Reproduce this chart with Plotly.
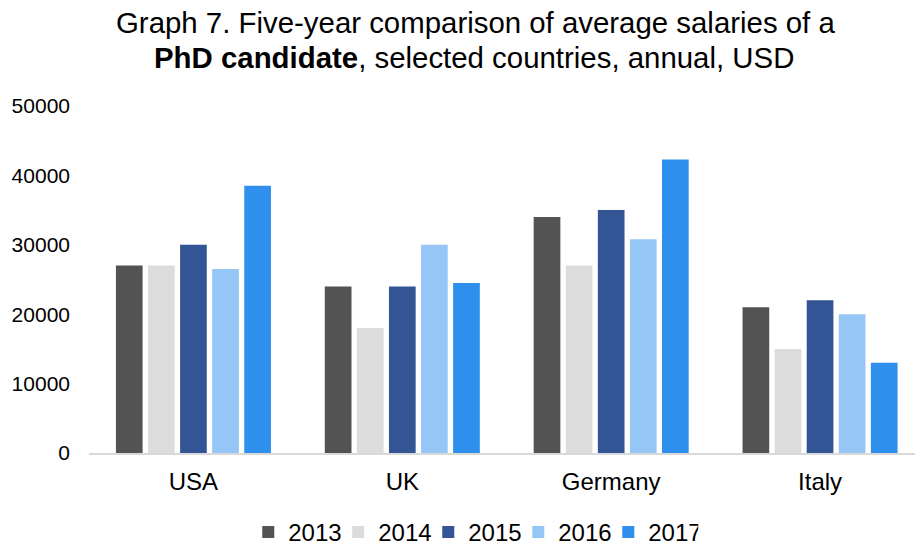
import plotly.graph_objects as go

countries = ["USA", "UK", "Germany", "Italy"]
years = ["2013", "2014", "2015", "2016", "2017"]
values = {
    "2013": [27000, 24000, 34000, 21000],
    "2014": [27000, 18000, 27000, 15000],
    "2015": [30000, 24000, 35000, 22000],
    "2016": [26500, 30000, 30800, 20000],
    "2017": [38500, 24500, 42300, 13000],
}
colors = {
    "2013": "#535353",
    "2014": "#dcdcdc",
    "2015": "#335596",
    "2016": "#95c6f5",
    "2017": "#2e90ec",
}
y_ticks = [0, 10000, 20000, 30000, 40000, 50000]
title_line1 = "Graph 7. Five-year comparison of average salaries of a"
title_line2 = "<b>PhD candidate</b>, selected countries, annual, USD"

FONT = "Liberation Sans, Arial, Helvetica, sans-serif"

fig = go.Figure()
for yr in years:
    fig.add_trace(go.Bar(
        name=yr, x=countries, y=values[yr],
        marker=dict(color=colors[yr], line=dict(width=0)),
    ))

W, H = 915, 548
left, right = 88.5, 915
top, bottom = 106, 453.5
ph = bottom - top
pw = right - left


def py(pix):
    return (bottom - pix) / ph


def px(pix):
    return (pix - left) / pw


fig.update_layout(
    width=W, height=H,
    paper_bgcolor="white", plot_bgcolor="white",
    margin=dict(l=left, r=W - right, t=top, b=H - bottom, pad=0, autoexpand=False),
    barmode="group", bargap=0.232, bargroupgap=0.168,
    font=dict(family=FONT, color="#000000"),
    xaxis=dict(
        range=[-0.5, pw / 209 - 0.5],
        showgrid=False, showline=True, linecolor="#d9d9d9", linewidth=2,
        ticks="", tickfont=dict(size=24, family=FONT, color="#000000"),
        ticklabelstandoff=6, automargin=False,
    ),
    yaxis=dict(
        range=[0, 50000], tickvals=y_ticks, ticktext=[str(v) for v in y_ticks],
        showgrid=False, showline=False, zeroline=False, ticks="",
        tickfont=dict(size=21, family=FONT, color="#000000"),
        ticklabelstandoff=18, automargin=False,
    ),
    legend=dict(
        orientation="h", x=px(473), xanchor="center", y=py(533), yanchor="middle",
        font=dict(size=24, family=FONT, color="#000000"),
        itemwidth=30, entrywidth=45, entrywidthmode="pixels",
    ),
    annotations=[
        dict(text=title_line1, x=px(475), xref="paper", xanchor="center",
             y=py(22), yref="paper", yanchor="middle", showarrow=False,
             font=dict(size=29.4, family=FONT, color="#000000")),
        dict(text=title_line2, x=px(474), xref="paper", xanchor="center",
             y=py(57), yref="paper", yanchor="middle", showarrow=False,
             font=dict(size=29.4, family=FONT, color="#000000")),
    ],
)

fig.write_html("out.html", config={"displayModeBar": False},
               post_script="document.body.style.margin='0';")
